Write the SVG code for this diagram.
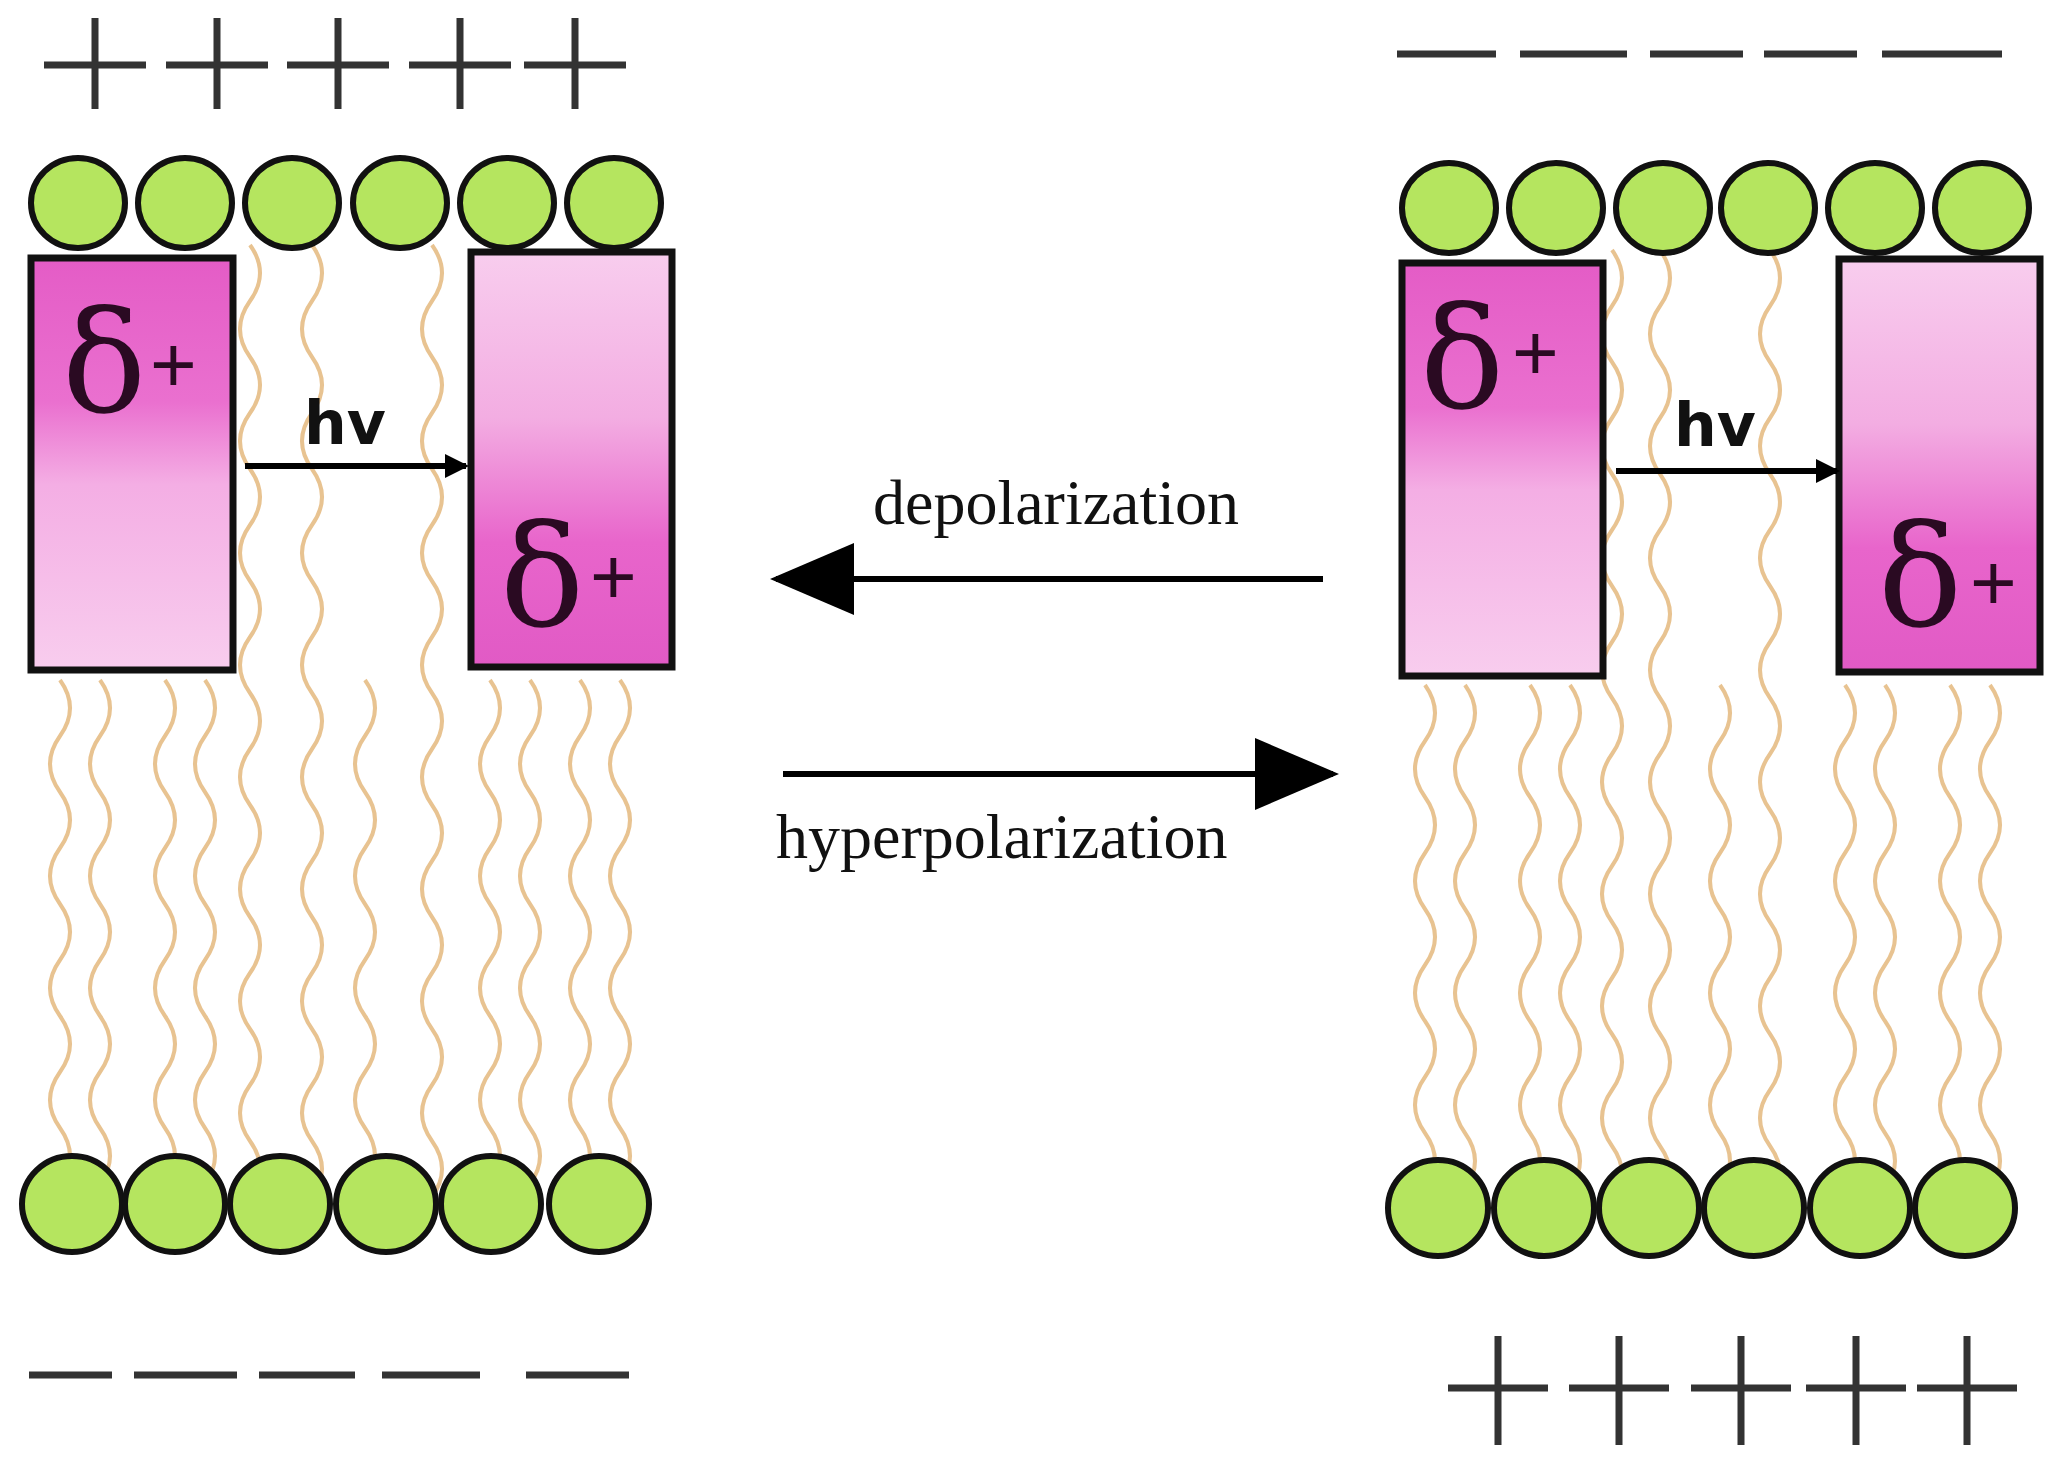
<svg xmlns="http://www.w3.org/2000/svg" xmlns:xlink="http://www.w3.org/1999/xlink" width="2064" height="1458" viewBox="0 0 2064 1458">
<style>
.head{fill:#b5e55f;stroke:#111;stroke-width:6}
.tl{fill:none;stroke:#e8c391;stroke-width:4}
.chg{stroke:#333;stroke-width:7;fill:none}
.box{stroke:#111;stroke-width:7}
.d{font-family:"DejaVu Serif",serif;font-size:140px;fill:#2a0a22}
.p{font-family:"Liberation Sans",sans-serif;font-size:80px;fill:#2a0a22}
.hv{font-family:"DejaVu Sans",sans-serif;font-weight:bold;font-size:60px;fill:#111}
.lab{font-family:"Liberation Serif",serif;font-size:64px;fill:#111}
.ar{stroke:#000;stroke-width:6;fill:none}
</style>
<defs>
<linearGradient id="gTop" x1="0" y1="0" x2="0" y2="1">
<stop offset="0" stop-color="#e45cc6"/><stop offset="0.35" stop-color="#ea70cf"/><stop offset="0.55" stop-color="#f4aee4"/><stop offset="1" stop-color="#f8cdee"/>
</linearGradient>
<linearGradient id="gBot" x1="0" y1="0" x2="0" y2="1">
<stop offset="0" stop-color="#f8cdee"/><stop offset="0.4" stop-color="#f3ade2"/><stop offset="0.7" stop-color="#e865cb"/><stop offset="1" stop-color="#e15ac5"/>
</linearGradient>
<path id="tail" class="tl" d="M0 0 q20 28 0 56 t0 56 t0 56 t0 56 t0 56 t0 56 t0 56 t0 56 t0 56"/>
<path id="tailLong" class="tl" d="M0 0 q20 28 0 56 t0 56 t0 56 t0 56 t0 56 t0 56 t0 56 t0 56 t0 56 t0 56 t0 56 t0 56 t0 56 t0 56 t0 56 t0 56 t0 56"/>
<marker id="ah" markerWidth="4" markerHeight="4" refX="3.5" refY="2" orient="auto" markerUnits="strokeWidth"><path d="M0 0 L4 2 L0 4Z" fill="#000"/></marker>
<marker id="big" markerWidth="14" markerHeight="12" refX="13" refY="6" orient="auto" markerUnits="strokeWidth"><path d="M0 0 L14 6 L0 12Z" fill="#000"/></marker>
</defs>

<g id="left-membrane">
<g id="left-tails">
<use href="#tailLong" x="250" y="245"/><use href="#tailLong" x="312" y="245"/><use href="#tailLong" x="432" y="245"/>
<use href="#tail" x="60" y="680"/><use href="#tail" x="100" y="680"/><use href="#tail" x="165" y="680"/><use href="#tail" x="205" y="680"/>
<use href="#tail" x="365" y="680"/><use href="#tail" x="490" y="680"/><use href="#tail" x="530" y="680"/><use href="#tail" x="580" y="680"/><use href="#tail" x="620" y="680"/>
</g>
<g id="left-top-heads">
<ellipse class="head" cx="78" cy="203" rx="47" ry="45"/><ellipse class="head" cx="185" cy="203" rx="47" ry="45"/><ellipse class="head" cx="292" cy="203" rx="47" ry="45"/><ellipse class="head" cx="400" cy="203" rx="47" ry="45"/><ellipse class="head" cx="507" cy="203" rx="47" ry="45"/><ellipse class="head" cx="614" cy="203" rx="47" ry="45"/>
</g>
<g id="left-bottom-heads">
<ellipse class="head" cx="72" cy="1204" rx="50" ry="48"/><ellipse class="head" cx="175" cy="1204" rx="50" ry="48"/><ellipse class="head" cx="280" cy="1204" rx="50" ry="48"/><ellipse class="head" cx="386" cy="1204" rx="50" ry="48"/><ellipse class="head" cx="491" cy="1204" rx="50" ry="48"/><ellipse class="head" cx="599" cy="1204" rx="50" ry="48"/>
</g>
<g id="left-box1">
<rect class="box" x="31" y="258" width="202" height="412" fill="url(#gTop)"/>
<text class="d" x="62" y="412">δ</text><text class="p" x="150" y="392">+</text>
</g>
<g id="left-box2">
<rect class="box" x="471" y="252" width="201" height="415" fill="url(#gBot)"/>
<text class="d" x="500" y="626">δ</text><text class="p" x="590" y="604">+</text>
</g>
<g id="left-hv">
<text class="hv" x="304" y="444">hv</text>
<line class="ar" x1="245" y1="466" x2="466" y2="466" marker-end="url(#ah)"/>
</g>
<g id="left-top-charges" class="chg">
<path d="M44 65h102M95 18v91M166 65h102M217 18v91M287 65h102M338 18v91M409 65h102M460 18v91M524 65h102M575 18v91"/>
</g>
<g id="left-bottom-charges" class="chg">
<path d="M29 1375h83M134 1375h103M259 1375h96M382 1375h98M526 1375h103"/>
</g>
</g>

<g id="right-membrane">
<g id="right-tails">
<use href="#tailLong" x="1612" y="250"/><use href="#tailLong" x="1660" y="250"/><use href="#tailLong" x="1770" y="250"/>
<use href="#tail" x="1425" y="685"/><use href="#tail" x="1465" y="685"/><use href="#tail" x="1530" y="685"/><use href="#tail" x="1570" y="685"/>
<use href="#tail" x="1720" y="685"/><use href="#tail" x="1845" y="685"/><use href="#tail" x="1885" y="685"/><use href="#tail" x="1950" y="685"/><use href="#tail" x="1990" y="685"/>
</g>
<g id="right-top-heads">
<ellipse class="head" cx="1449" cy="208" rx="47" ry="45"/><ellipse class="head" cx="1556" cy="208" rx="47" ry="45"/><ellipse class="head" cx="1663" cy="208" rx="47" ry="45"/><ellipse class="head" cx="1768" cy="208" rx="47" ry="45"/><ellipse class="head" cx="1875" cy="208" rx="47" ry="45"/><ellipse class="head" cx="1982" cy="208" rx="47" ry="45"/>
</g>
<g id="right-bottom-heads">
<ellipse class="head" cx="1438" cy="1208" rx="50" ry="48"/><ellipse class="head" cx="1544" cy="1208" rx="50" ry="48"/><ellipse class="head" cx="1649" cy="1208" rx="50" ry="48"/><ellipse class="head" cx="1754" cy="1208" rx="50" ry="48"/><ellipse class="head" cx="1860" cy="1208" rx="50" ry="48"/><ellipse class="head" cx="1965" cy="1208" rx="50" ry="48"/>
</g>
<g id="right-box1">
<rect class="box" x="1402" y="263" width="201" height="413" fill="url(#gTop)"/>
<text class="d" x="1420" y="408">δ</text><text class="p" x="1512" y="380">+</text>
</g>
<g id="right-box2">
<rect class="box" x="1839" y="259" width="201" height="413" fill="url(#gBot)"/>
<text class="d" x="1878" y="626">δ</text><text class="p" x="1970" y="610">+</text>
</g>
<g id="right-hv">
<text class="hv" x="1674" y="446">hv</text>
<line class="ar" x1="1616" y1="471" x2="1837" y2="471" marker-end="url(#ah)"/>
</g>
<g id="right-top-charges" class="chg">
<path d="M1397 54h99M1520 54h107M1650 54h93M1764 54h93M1882 54h120"/>
</g>
<g id="right-bottom-charges" class="chg">
<path d="M1448 1388h100M1498 1336v109M1569 1388h100M1619 1336v109M1691 1388h100M1741 1336v109M1806 1388h100M1856 1336v109M1917 1388h100M1967 1336v109"/>
</g>
</g>

<g id="connectors">
<line class="ar" x1="1323" y1="579" x2="776" y2="579" marker-end="url(#big)"/>
<line class="ar" x1="783" y1="774" x2="1333" y2="774" marker-end="url(#big)"/>
</g>
<g id="labels">
<text class="lab" x="873" y="524">depolarization</text>
<text class="lab" x="776" y="858">hyperpolarization</text>
</g>
</svg>
